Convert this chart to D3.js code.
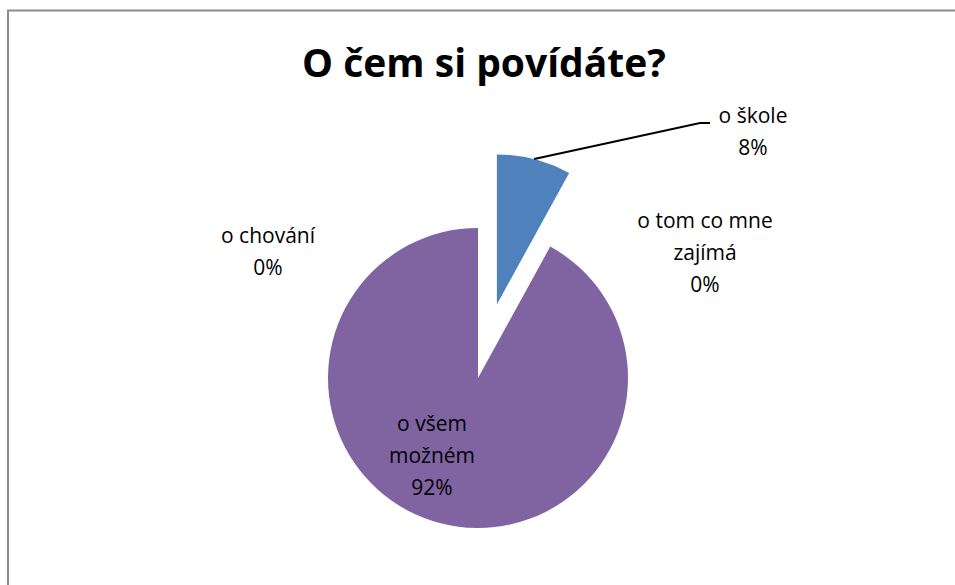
<!DOCTYPE html>
<html>
<head>
<meta charset="utf-8">
<script src="https://cdn.jsdelivr.net/npm/d3@7"></script>
<style>
  body { margin: 0; background: #fff; overflow: hidden; }
  svg { display: block; }
  text { font-family: "Open Sans", "Noto Sans", sans-serif; fill: #000; }
</style>
</head>
<body>
<svg width="955" height="585"></svg>
<script>
// data
var categories = ['o škole', 'o tom co mne zajímá', 'o všem možném', 'o chování'];
var values = [8, 0, 92, 0];
var colors = ['#4F81BD', '#C0504D', '#8064A2', '#9BBB59'];
// label lines, as the chart wraps them
var labelLines = [['o škole', '8%'], ['o tom co mne', 'zajímá', '0%'], ['o všem', 'možném', '92%'], ['o chování', '0%']];

var svg = d3.select('svg');
var width = 955, height = 585;

// chart frame (only top and left edge are inside the picture)
svg.append('path')
    .attr('d', 'M8,' + (height + 5) + 'V10.5H' + (width + 5))
    .attr('fill', 'none')
    .attr('stroke', '#8c8c8c')
    .attr('stroke-width', 2);

svg.append('text')
    .attr('x', 484)
    .attr('y', 77)
    .attr('text-anchor', 'middle')
    .style('font-size', '39px')
    .style('font-weight', 'bold')
    .text('O čem si povídáte?');

var cx = 478, cy = 378, radius = 150;
var explode = [76, 0, 0, 0]; // first slice pulled out of the pie

var pie = d3.pie().sort(null).value(function(d) { return d; });
var arcs = pie(values);
var arc = d3.arc().innerRadius(0).outerRadius(radius);

function offset(d, i) {
    var a = (d.startAngle + d.endAngle) / 2;
    return [explode[i] * Math.sin(a), -explode[i] * Math.cos(a)];
}

var g = svg.append('g').attr('transform', 'translate(' + cx + ',' + cy + ')');

g.selectAll('path.slice')
    .data(arcs.filter(function(d) { return d.value > 0; }))
    .enter().append('path')
    .attr('class', 'slice')
    .attr('d', arc)
    .attr('fill', function(d) { return colors[d.index]; })
    .attr('transform', function(d) {
        var o = offset(d, d.index);
        return 'translate(' + o[0] + ',' + o[1] + ')';
    });

// label placement relative to pie centre (Excel moves them to avoid overlap)
var labelPos = [[275, -246], [227, -125], [-46, 78], [-210, -126]];

// leader line for the exploded slice
var s0 = arcs[0], o0 = offset(s0, 0);
var mid = (s0.startAngle + s0.endAngle) / 2;
var p0 = [o0[0] + radius * Math.sin(mid), o0[1] - radius * Math.cos(mid)];
g.append('polyline')
    .attr('points', [p0, [222, -255], [232, -255]].map(function(p) { return p.join(','); }).join(' '))
    .attr('fill', 'none')
    .attr('stroke', '#000')
    .attr('stroke-width', 2);

var labels = g.selectAll('text.lbl')
    .data(arcs)
    .enter().append('text')
    .attr('class', 'lbl')
    .attr('text-anchor', 'middle')
    .style('font-size', '21px')
    .attr('transform', function(d, i) {
        return 'translate(' + labelPos[i][0] + ',' + labelPos[i][1] + ')';
    });

labels.selectAll('tspan')
    .data(function(d, i) { return labelLines[i]; })
    .enter().append('tspan')
    .attr('x', 0)
    .attr('y', function(t, j, n) { return (j - (n.length - 1) / 2) * 32 + 7; })
    .text(function(t) { return t; });
</script>
</body>
</html>
